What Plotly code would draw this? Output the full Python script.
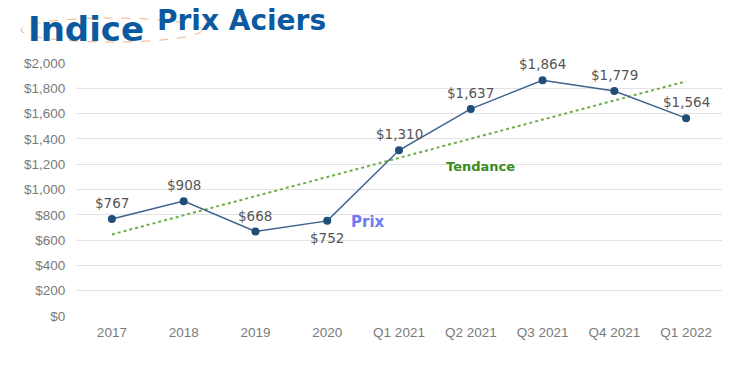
import numpy as np
import plotly.graph_objects as go

categories = ["2017", "2018", "2019", "2020", "Q1 2021", "Q2 2021", "Q3 2021", "Q4 2021", "Q1 2022"]
prices = [767, 908, 668, 752, 1310, 1637, 1864, 1779, 1564]
label_below = [False, False, False, True, False, False, False, False, False]
y_ticks = list(range(0, 2001, 200))

W, H = 734, 384
SL, SR, ST, SB = 76, 722, 63, 316   # plot area in page pixels
L, T, R, B = SL, ST, W - SR, H - SB
pw, ph = SR - SL, SB - ST

def px(x):
    return (x - SL) / pw

def py(y):
    return (SB - y) / ph

idx = np.arange(len(prices))
slope, intercept = np.polyfit(idx, prices, 1)
trend = slope * idx + intercept

fig = go.Figure()
fig.add_trace(go.Scatter(
    x=categories, y=trend, mode="lines",
    line=dict(color="#70AD47", width=2, dash="dot"),
    hoverinfo="skip", showlegend=False,
))
fig.add_trace(go.Scatter(
    x=categories, y=prices, mode="lines+markers",
    line=dict(color="#3E6190", width=1.5),
    marker=dict(color="#1F4E79", size=8),
    cliponaxis=False, showlegend=False,
))

annotations = []
for i, (v, below) in enumerate(zip(prices, label_below)):
    annotations.append(dict(
        x=i, y=v, xref="x", yref="y", text=f"${v:,}", showarrow=False,
        xanchor="center", yanchor="middle", yshift=-17 if below else 16,
        font=dict(family="DejaVu Sans", size=13.5, color="#555555"),
    ))

annotations += [
    dict(text="<b>Indice</b>", x=px(27), y=py(29), xref="paper", yref="paper",
         xanchor="left", yanchor="middle", showarrow=False, borderpad=0,
         font=dict(family="DejaVu Sans", size=34, color="#0B5AA0")),
    dict(text="<b>Prix Aciers</b>", x=px(156), y=py(20), xref="paper", yref="paper",
         xanchor="left", yanchor="middle", showarrow=False, borderpad=0,
         font=dict(family="DejaVu Sans", size=28, color="#0B5AA0")),
    dict(text="<b>Tendance</b>", x=px(480), y=py(166), xref="paper", yref="paper",
         xanchor="center", yanchor="middle", showarrow=False,
         font=dict(family="DejaVu Sans", size=13, color="#3A8A1E")),
    dict(text="<b>Prix</b>", x=px(368), y=py(222), xref="paper", yref="paper",
         xanchor="center", yanchor="middle", showarrow=False,
         font=dict(family="DejaVu Sans", size=15, color="#6C7CF2")),
]

fig.update_layout(
    width=W, height=H,
    margin=dict(l=L, r=R, t=T, b=B),
    paper_bgcolor="white", plot_bgcolor="white",
    xaxis=dict(
        type="category", range=[-0.5, len(categories) - 0.5],
        showgrid=False, showline=False, zeroline=False,
        tickfont=dict(family="Liberation Sans", size=13.5, color="#7A7A7A"),
        ticks="outside", ticklen=4, tickcolor="white",
    ),
    yaxis=dict(
        range=[0, 2000], tickvals=y_ticks,
        ticktext=[f"${v:,}" for v in y_ticks],
        showgrid=True, gridcolor="#E3E3E3", gridwidth=1,
        zeroline=False, showline=False,
        tickfont=dict(family="Liberation Sans", size=13.5, color="#7A7A7A"),
        ticks="outside", ticklen=7, tickcolor="white",
    ),
    annotations=annotations,
    shapes=[
        dict(type="circle", xref="paper", yref="paper",
             x0=px(21), x1=px(202), y0=py(42), y1=py(18),
             line=dict(color="#F4B183", width=1, dash="dash")),
    ],
)

fig.write_html("out.html", config={"displayModeBar": False},
               post_script="document.body.style.margin='0';document.body.style.overflow='hidden';")
